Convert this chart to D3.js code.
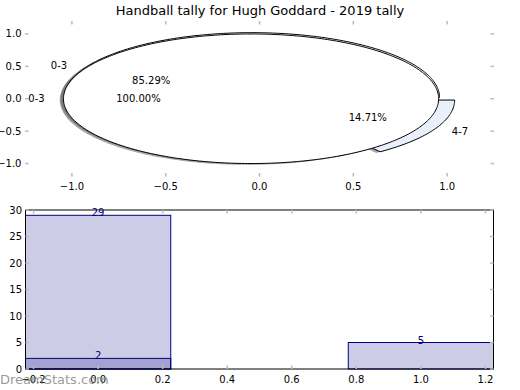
<!DOCTYPE html>
<html><head><meta charset="utf-8">
<script src="https://cdn.jsdelivr.net/npm/d3@7"></script>
<style>body{margin:0;background:#fff}svg{display:block}text{font-family:"DejaVu Sans",sans-serif}</style>
</head><body>
<script>
const title = "Handball tally for Hugh Goddard - 2019 tally";
const categories = ["0-3", "4-7"];
const outerValues = [29, 5];
const innerCategories = ["0-3"];
const innerValues = [2];
const barXOuter = [0, 1];
const barXInner = [0];
const pieXTicks = [-1.0, -0.5, 0.0, 0.5, 1.0];
const pieYTicks = [1.0, 0.5, 0.0, -0.5, -1.0];
const barXTicks = [-0.2, 0.0, 0.2, 0.4, 0.6, 0.8, 1.0, 1.2];
const barYTicks = [0, 5, 10, 15, 20, 25, 30];
const watermark = "DreamStats.com";

const W = 520, H = 390;
const svg = d3.select("body").append("svg").attr("width", W).attr("height", H);

svg.append("text").attr("x", 260).attr("y", 14.5).attr("text-anchor", "middle")
  .attr("font-size", 13).text(title);

// ---------- top: pie axes ----------
const px = d3.scaleLinear().domain([-1.25, 1.25]).range([25, 494]);
const py = d3.scaleLinear().domain([-1.2, 1.2]).range([176.5, 21]);
const explode = 0.045, shadowOff = -0.02;
const tickCol = "#bbbbbb";

function drawTicks(g, xs, ys, xt, yt, fx, fy, left, right, top, bottom) {
  xt.forEach(v => {
    g.append("line").attr("x1", xs(v)).attr("x2", xs(v)).attr("y1", top).attr("y2", top + 3.5)
      .attr("stroke", tickCol).attr("stroke-width", 1.5);
    g.append("line").attr("x1", xs(v)).attr("x2", xs(v)).attr("y1", bottom).attr("y2", bottom - 3.5)
      .attr("stroke", tickCol).attr("stroke-width", 1.5);
    g.append("text").attr("x", xs(v)).attr("y", bottom + 13.5).attr("text-anchor", "middle")
      .attr("font-size", 10).text(fx(v));
  });
  yt.forEach(v => {
    g.append("line").attr("x1", left).attr("x2", left + 3.5).attr("y1", ys(v)).attr("y2", ys(v))
      .attr("stroke", tickCol).attr("stroke-width", 1.5);
    g.append("line").attr("x1", right).attr("x2", right - 3.5).attr("y1", ys(v)).attr("y2", ys(v))
      .attr("stroke", tickCol).attr("stroke-width", 1.5);
    g.append("text").attr("x", left - 3.5).attr("y", ys(v)).attr("dy", "0.35em").attr("text-anchor", "end")
      .attr("font-size", 10).text(fy(v));
  });
}
const fmt1 = v => d3.format(".1f")(v).replace("-", "\u2212");
const fmt0 = v => String(v);

const gTop = svg.append("g");
drawTicks(gTop, px, py, pieXTicks, pieYTicks, fmt1, fmt1, 25, 494, 21, 176.5);

const pieGen = d3.pie().sort(null).startAngle(0).endAngle(2 * Math.PI);
const line = d3.line().x(d => px(d[0])).y(d => py(d[1]));

function wedgePts(cx, cy, r, a0, a1) {
  const full = Math.abs(a1 - a0 - 2 * Math.PI) < 1e-9;
  const n = Math.max(8, Math.ceil((a1 - a0) / (Math.PI / 180)));
  const arc = d3.range(n + 1).map(i => {
    const a = a0 + (a1 - a0) * i / n;
    return [cx + r * Math.cos(a), cy + r * Math.sin(a)];
  });
  return full ? arc : [[cx, cy], ...arc, [cx, cy]];
}

function buildPie(values, labels, colors) {
  return pieGen(values).map((d, i) => {
    const mid = (d.startAngle + d.endAngle) / 2;
    const cx = explode * Math.cos(mid), cy = explode * Math.sin(mid);
    return { d, i, mid, cx, cy, label: labels[i], color: colors[i],
      pct: (100 * (d.endAngle - d.startAngle) / (2 * Math.PI)).toFixed(2) + "%" };
  });
}
const outer = buildPie(outerValues, categories, ["#ffffff", "#eaf0fb"]);
const inner = buildPie(innerValues, innerCategories, ["#ffffff"]);
const all = [...outer, ...inner];

all.forEach(w => {
  gTop.append("path")
    .attr("d", line(wedgePts(w.cx + shadowOff, w.cy + shadowOff, 1, w.d.startAngle, w.d.endAngle)) + "Z")
    .attr("fill", "#4d4d4d").attr("fill-opacity", 0.5).attr("stroke", "none");
});
all.forEach(w => {
  gTop.append("path")
    .attr("d", line(wedgePts(w.cx, w.cy, 1, w.d.startAngle, w.d.endAngle)) + "Z")
    .attr("fill", w.color).attr("stroke", "#000").attr("stroke-width", 1)
    .attr("stroke-linejoin", "round");
});
all.forEach(w => {
  const lx = w.cx + 1.1 * Math.cos(w.mid), ly = w.cy + 1.1 * Math.sin(w.mid);
  gTop.append("text").attr("x", px(lx)).attr("y", py(ly)).attr("dy", "0.35em")
    .attr("text-anchor", lx > 0 ? "start" : "end").attr("font-size", 10).text(w.label);
  const tx = w.cx + 0.6 * Math.cos(w.mid), ty = w.cy + 0.6 * Math.sin(w.mid);
  gTop.append("text").attr("x", px(tx)).attr("y", py(ty)).attr("dy", "0.35em")
    .attr("text-anchor", "middle").attr("font-size", 10).text(w.pct);
});

// ---------- bottom: bar axes ----------
const bx = d3.scaleLinear().domain([-0.225, 1.225]).range([25.5, 493.5]);
const by = d3.scaleLinear().domain([0, 30]).range([369, 210]);
const bw = 0.45;
const gBot = svg.append("g");

function bars(xsArr, vals) {
  xsArr.forEach((x, i) => {
    gBot.append("rect").attr("x", bx(x - bw / 2)).attr("width", bx(x + bw / 2) - bx(x - bw / 2))
      .attr("y", by(vals[i])).attr("height", by(0) - by(vals[i]))
      .attr("fill", "#000080").attr("fill-opacity", 0.2)
      .attr("stroke", "#000080").attr("stroke-width", 1);
  });
}
bars(barXOuter, outerValues);
bars(barXInner, innerValues);
function barLabels(xsArr, vals) {
  xsArr.forEach((x, i) => {
    gBot.append("text").attr("x", bx(x)).attr("y", by(vals[i]) + 1)
      .attr("text-anchor", "middle").attr("font-size", 10).attr("fill", "#000080").text(vals[i]);
  });
}
barLabels(barXOuter, outerValues);
barLabels(barXInner, innerValues);

gBot.append("rect").attr("x", 25.5).attr("y", 210).attr("width", 468).attr("height", 159)
  .attr("fill", "none").attr("stroke", "#000").attr("stroke-width", 1);
drawTicks(gBot, bx, by, barXTicks, barYTicks, fmt1, fmt0, 25.5, 493.5, 210, 369);

svg.append("text").attr("x", 0).attr("y", 384).attr("font-size", 13)
  .attr("fill", "#888888").attr("fill-opacity", 0.85).text(watermark);
</script>
</body></html>
